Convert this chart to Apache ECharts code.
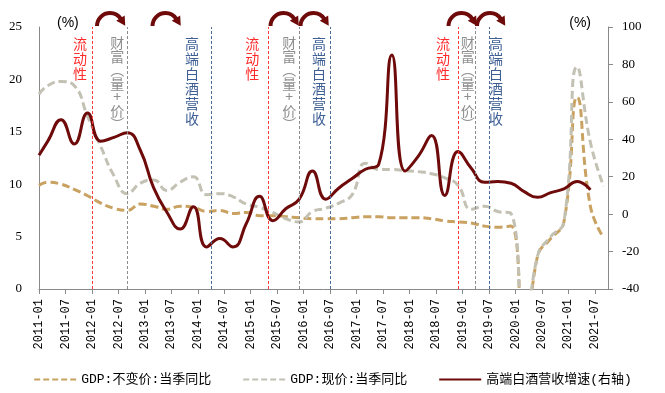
<!DOCTYPE html>
<html>
<head>
<meta charset="utf-8">
<script src="https://cdn.jsdelivr.net/npm/echarts@6/dist/echarts.min.js"></script>
<style>
  html, body { margin: 0; background: #fff; }
  #chart { width: 665px; height: 393px; }
</style>
</head>
<body>
<div id="chart"></div>
<script>
// x 轴月度类目：2011-01 ~ 2021-10
const months = [];
for (let y = 2011; y <= 2021; y++) {
  for (let m = 1; m <= 12; m++) {
    if (y === 2021 && m > 10) break;
    months.push(y + '-' + String(m).padStart(2, '0'));
  }
}

// 季度数据点所在月份
const quarterDates = [
  '2011-01', '2011-03', '2011-06', '2011-09', '2011-12',
  '2012-03', '2012-06', '2012-09', '2012-12',
  '2013-03', '2013-06', '2013-09', '2013-12',
  '2014-03', '2014-06', '2014-09', '2014-12',
  '2015-03', '2015-06', '2015-09', '2015-12',
  '2016-03', '2016-06', '2016-09', '2016-12',
  '2017-03', '2017-06', '2017-09', '2017-12',
  '2018-03', '2018-06', '2018-09', '2018-12',
  '2019-03', '2019-06', '2019-09', '2019-12',
  '2020-03', '2020-06', '2020-09', '2020-12',
  '2021-03', '2021-06', '2021-09'
];

// GDP:不变价:当季同比 (左轴, %)
const gdpReal = [
  9.9, 10.2, 10.0, 9.5, 8.9,
  8.2, 7.7, 7.5, 8.1,
  7.9, 7.6, 7.9, 7.8,
  7.4, 7.5, 7.2, 7.3,
  7.0, 7.0, 6.9, 6.8,
  6.7, 6.7, 6.7, 6.8,
  6.9, 6.9, 6.8, 6.8,
  6.8, 6.7, 6.5, 6.4,
  6.3, 6.0, 5.9, 6.0,
  -6.9, 3.1, 4.8, 6.4,
  18.3, 7.9, 4.9
];

// GDP:现价:当季同比 (左轴, %)
const gdpNominal = [
  18.6, 19.4, 19.8, 19.4, 16.5,
  13.6, 10.8, 9.1, 10.1,
  10.4, 9.4, 10.2, 10.7,
  9.0, 9.1, 8.8, 8.1,
  7.8, 7.3, 6.7, 6.4,
  7.4, 7.7, 8.2, 9.0,
  12.0, 11.4, 11.4, 11.3,
  11.2, 11.0, 10.6, 9.9,
  7.6, 7.9, 7.4, 7.2,
  -5.3, 3.1, 5.0, 6.4,
  21.2, 14.0, 9.8
];

// 高端白酒营收增速 (右轴, %)
const liquorRev = [
  31.5, 39, 50.5, 37.5, 54,
  39, 41, 43.5, 34,
  14, 1, -8, 4,
  -17.5, -13, -17.5, -5,
  9.5, -3.5, 3, 8,
  23, 8, 14, 19,
  24, 26.5, 85, 23,
  31, 42, 10, 33.5,
  24.5, 17, 17.5, 16.5,
  12, 9, 11.5, 13.5,
  17.5, 13
];

const seriesNames = ['GDP:不变价:当季同比', 'GDP:现价:当季同比', '高端白酒营收增速(右轴)'];

// 竖线标注
const markMonths = ['2012-01', '2012-09', '2014-04', '2015-05', '2015-12', '2016-07', '2018-12', '2019-04', '2019-07'];
const markKinds  = ['liq', 'wealth', 'rev', 'liq', 'wealth', 'rev', 'liq', 'wealth', 'rev'];
const markTextDx = [-12, -10, -19, -16, -10, -11, -15, -8, 7];
const kindStyle = {
  liq:    { line: '#FF3B3B', text: '流\n动\n性', color: '#FF2A2A', lh: 15 },
  wealth: { line: '#8C8C8C', text: '财\n富\n︵\n量\n+\n价\n︶', color: '#8E8E8E', lh: 13.5 },
  rev:    { line: '#4C6C9C', text: '高\n端\n白\n酒\n营\n收', color: '#3E5F94', lh: 15 }
};

// 顶部弧形箭头（圆心 x 像素）
const arrowCx = [110, 165.5, 283.5, 313.5, 461.5, 490];

const toPairs = (vals) => vals.map((v, i) => [quarterDates[i], v]);

const chart = echarts.init(document.getElementById('chart'));
const serifFont = "'Liberation Serif', 'Noto Sans CJK SC', serif";
const monoFont = "'Liberation Mono', 'Noto Sans CJK SC', monospace";
const axisGrey = '#898989';

const option = {
  animation: false,
  backgroundColor: '#fff',
  grid: { left: 39, right: 57, top: 27, bottom: 104, containLabel: false },
  legend: {
    top: 368,
    left: 'center',
    itemWidth: 42,
    itemHeight: 14,
    itemGap: 31,
    itemStyle: { opacity: 0 },
    textStyle: { fontFamily: monoFont, fontSize: 13, color: '#000' },
    data: [
      { name: seriesNames[0], lineStyle: { type: [6, 3] } },
      { name: seriesNames[1], lineStyle: { type: [6, 3] } },
      { name: seriesNames[2] }
    ]
  },
  xAxis: {
    type: 'category',
    data: months,
    boundaryGap: false,
    axisLine: { lineStyle: { color: axisGrey } },
    axisTick: { show: true, interval: 5, length: 5, lineStyle: { color: axisGrey } },
    axisLabel: { interval: 5, rotate: 90, margin: 10, fontFamily: monoFont, fontSize: 12, color: '#000' },
    splitLine: { show: false }
  },
  yAxis: [
    {
      type: 'value', min: 0, max: 25, interval: 5,
      name: '(%)', nameLocation: 'end', nameGap: -3,
      nameTextStyle: { align: 'left', padding: [0, 0, 0, 18], fontFamily: "'Liberation Sans'", fontSize: 14, color: '#000' },
      axisLine: { show: true, lineStyle: { color: axisGrey } },
      axisTick: { show: false },
      axisLabel: { margin: 17, fontFamily: serifFont, fontSize: 13, color: '#000' },
      splitLine: { show: false }
    },
    {
      type: 'value', min: -40, max: 100, interval: 20, position: 'right',
      name: '(%)', nameLocation: 'end', nameGap: -3,
      nameTextStyle: { align: 'right', padding: [0, 17, 0, 0], fontFamily: "'Liberation Sans'", fontSize: 14, color: '#000' },
      axisLine: { show: true, lineStyle: { color: axisGrey } },
      axisTick: { show: true, length: 5, lineStyle: { color: axisGrey } },
      axisLabel: { margin: 14, fontFamily: serifFont, fontSize: 13, color: '#000' },
      splitLine: { show: false }
    }
  ],
  series: [
    {
      name: seriesNames[0], type: 'line', yAxisIndex: 0, smooth: 0.5, symbol: 'none',
      data: toPairs(gdpReal),
      lineStyle: { color: '#C9A262', width: 3, type: [8, 4] },
      itemStyle: { color: '#C9A262' },
      z: 2
    },
    {
      name: seriesNames[1], type: 'line', yAxisIndex: 0, smooth: 0.5, symbol: 'none',
      data: toPairs(gdpNominal),
      lineStyle: { color: '#C2C1B3', width: 3, type: [8, 4] },
      itemStyle: { color: '#C2C1B3' },
      z: 2
    },
    {
      name: seriesNames[2], type: 'line', yAxisIndex: 1, smooth: 0.5, symbol: 'none',
      data: toPairs(liquorRev),
      lineStyle: { color: '#6E0A0A', width: 3 },
      itemStyle: { color: '#6E0A0A' },
      z: 4,
      markLine: {
        silent: true,
        symbol: 'none',
        label: { show: false },
        animation: false,
        data: markMonths.map((m, i) => ({
          xAxis: m,
          lineStyle: { color: kindStyle[markKinds[i]].line, type: [3, 2], width: 1 }
        }))
      }
    }
  ]
};

chart.setOption(option);

// 标注文字与弧形箭头
const graphics = [];
markMonths.forEach((m, i) => {
  const k = kindStyle[markKinds[i]];
  const px = chart.convertToPixel({ xAxisIndex: 0 }, m);
  graphics.push({
    type: 'text', silent: true, z: 10,
    style: {
      text: k.text, x: px + markTextDx[i], y: 36,
      textAlign: 'center', textVerticalAlign: 'top',
      font: "14px 'Noto Sans CJK SC'", lineHeight: k.lh, fill: k.color
    }
  });
});

const arrowColor = '#6E0A0A';
arrowCx.forEach((cx) => {
  const cy = 26, r = 13, te = Math.PI * 1.82;
  const ex = cx + r * Math.cos(te), ey = cy + r * Math.sin(te);
  const dx = -Math.sin(te), dy = Math.cos(te);
  const nx = Math.cos(te), ny = Math.sin(te);
  graphics.push({
    type: 'arc', silent: true, z: 10,
    shape: { cx: cx, cy: cy, r: r, startAngle: Math.PI, endAngle: te, clockwise: true },
    style: { stroke: arrowColor, lineWidth: 4, fill: null }
  });
  graphics.push({
    type: 'polygon', silent: true, z: 10,
    shape: { points: [
      [ex + dx * 8, ey + dy * 8],
      [ex + nx * 5 - dx, ey + ny * 5 - dy],
      [ex - nx * 5 - dx, ey - ny * 5 - dy]
    ] },
    style: { fill: arrowColor }
  });
});

chart.setOption({ graphic: graphics });
</script>
</body>
</html>
